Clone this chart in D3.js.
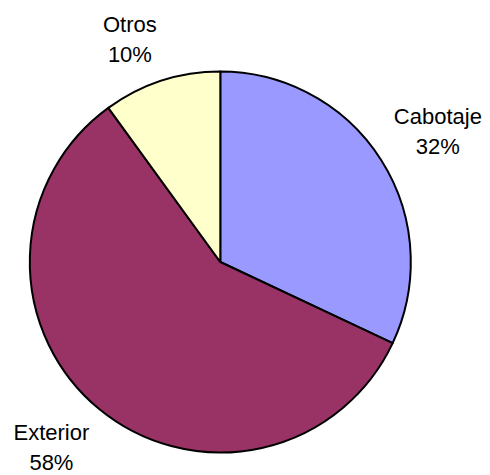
<!DOCTYPE html>
<html>
<head>
<meta charset="utf-8">
<script src="https://cdn.jsdelivr.net/npm/d3@7"></script>
<style>
  body { margin: 0; background: #fff; }
  text { font-family: "Liberation Sans", Arial, sans-serif; fill: #000; }
</style>
</head>
<body>
<div id="chart"></div>
<script>
const categories = ["Cabotaje", "Exterior", "Otros"];
const values = [32, 58, 10];
const colors = ["#9999ff", "#993366", "#ffffcc"];

let width = 490, height = 475;
let cx = 220.3, cy = 262, radius = 190.5;

let svg = d3.select("#chart")
    .append("svg")
    .attr("width", width)
    .attr("height", height);

let g = svg.append("g")
    .attr("transform", "translate(" + cx + "," + cy + ")");

let data = categories.map((c, i) => ({ name: c, value: values[i], color: colors[i] }));

let pie = d3.pie().sort(null).value(d => d.value);
let arcs = pie(data);
let arc = d3.arc().innerRadius(0).outerRadius(radius);

g.selectAll("path.slice")
    .data(arcs)
    .enter()
    .append("path")
    .attr("class", "slice")
    .attr("d", arc)
    .attr("fill", d => d.data.color)
    .attr("stroke", "#000")
    .attr("stroke-width", 2)
    .attr("stroke-linejoin", "round");

// labels: anchor point on a ring outside the pie, box pushed outward from it
let total = d3.sum(values);
let labelR = radius + 15;
let labels = g.selectAll("g.label")
    .data(arcs)
    .enter()
    .append("g")
    .attr("class", "label");

labels.each(function (d) {
    let lg = d3.select(this);
    let t = lg.append("text")
        .attr("text-anchor", "middle")
        .style("font-size", "22px");
    t.append("tspan").attr("x", 0).attr("y", 0).text(d.data.name);
    t.append("tspan").attr("x", 0).attr("y", 30)
        .text(Math.round(d.data.value / total * 100) + "%");

    let bb = t.node().getBBox();
    let a = (d.startAngle + d.endAngle) / 2;
    let s = Math.sin(a), c = Math.cos(a);
    let ax = s * labelR, ay = -c * labelR;
    let tx = ax + Math.sign(s) * bb.width / 2;
    let ty = ay - Math.sign(c) * Math.min(1, 1.4 * Math.abs(c)) * bb.height / 2;
    let bx = bb.x + bb.width / 2, by = bb.y + bb.height / 2;
    lg.attr("transform", "translate(" + (tx - bx) + "," + (ty - by) + ")");
});
</script>
</body>
</html>
